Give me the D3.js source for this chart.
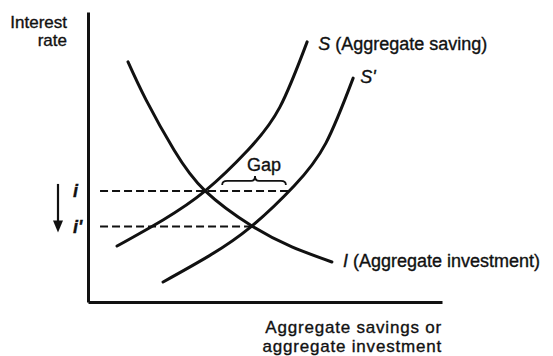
<!DOCTYPE html>
<html>
<head>
<meta charset="utf-8">
<script src="https://cdn.jsdelivr.net/npm/d3@7"></script>
<style>
  html, body { margin: 0; padding: 0; background: #fff; }
  svg { display: block; }
  text { font-family: "Liberation Sans", Arial, Helvetica, sans-serif; fill: #111; stroke: #111; stroke-width: 0.35px; }
</style>
</head>
<body>
<svg id="chart" width="553" height="356"></svg>
<script>
// Curve coordinates in abstract units (0-100 on both axes)
const investX = [11.3, 16.4, 24.3, 33.1, 46.3, 57.6, 68.9];
const investY = [82.8, 69.7, 52.4, 38.3, 26.2, 19.0, 13.8];
const savingX = [8.2, 21.2, 33.1, 45.2, 54.2, 61.9];
const savingY = [19.3, 28.3, 38.3, 52.4, 67.2, 89.7];
const shiftedX = [21.2, 34.2, 46.0, 58.2, 67.2, 74.9];
const shiftedY = [6.9, 15.9, 25.9, 40.0, 54.8, 77.2];

// Interest-rate levels and where their guide lines stop
const rateLabels = ["i", "i'"];
const rateValues = [38.3, 26.0];
const rateEnds = [56.5, 46.2];
const guideStart = 3.4;

// Horizontal extent of the saving gap at rate i
const gapFrom = 37.9;
const gapTo = 55.9;

const svg = d3.select("#chart");
const ink = "#111";

const x = d3.scaleLinear().domain([0, 100]).range([88, 442]);
const y = d3.scaleLinear().domain([0, 100]).range([302, 12]);

// Axes without ticks
const yAxis = svg.append("g").attr("transform", `translate(${x(0)},0)`)
  .call(d3.axisLeft(y).tickValues([]).tickSizeOuter(0));
const xAxis = svg.append("g").attr("transform", `translate(0,${y(0)})`)
  .call(d3.axisBottom(x).tickValues([]).tickSizeOuter(0));
[yAxis, xAxis].forEach(g => g.select(".domain").attr("stroke", ink).attr("stroke-width", 3));

// Dashed guide lines at each rate
svg.selectAll("line.guide").data(rateValues).join("line")
  .attr("class", "guide")
  .attr("x1", x(guideStart))
  .attr("x2", (d, k) => x(rateEnds[k]))
  .attr("y1", d => y(d)).attr("y2", d => y(d))
  .attr("stroke", ink).attr("stroke-width", 2)
  .attr("stroke-dasharray", "8,4");

// Curves
const line = d3.line().x(d => x(d[0])).y(d => y(d[1])).curve(d3.curveNatural);
const series = [
  d3.zip(investX, investY),
  d3.zip(savingX, savingY),
  d3.zip(shiftedX, shiftedY)
];
svg.selectAll("path.curve").data(series).join("path")
  .attr("class", "curve")
  .attr("d", line)
  .attr("fill", "none")
  .attr("stroke", ink)
  .attr("stroke-width", 3)
  .attr("stroke-linecap", "round");

// Curve labels
const sEnd = [savingX[savingX.length - 1], savingY[savingY.length - 1]];
const s2End = [shiftedX[shiftedX.length - 1], shiftedY[shiftedY.length - 1]];
const iEnd = [investX[investX.length - 1], investY[investY.length - 1]];

const sLab = svg.append("text").attr("x", x(sEnd[0]) + 11).attr("y", y(sEnd[1]) + 8)
  .attr("font-size", 18);
sLab.append("tspan").attr("font-style", "italic").text("S");
sLab.append("tspan").text(" (Aggregate saving)");

svg.append("text").attr("x", x(s2End[0]) + 7).attr("y", y(s2End[1]) + 5)
  .attr("font-size", 18).attr("font-style", "italic").text("S'");

const iLab = svg.append("text").attr("x", x(iEnd[0]) + 11).attr("y", y(iEnd[1]) + 5)
  .attr("font-size", 18);
iLab.append("tspan").attr("font-style", "italic").text("I");
iLab.append("tspan").text(" (Aggregate investment)");

// Rate labels on the vertical axis
svg.selectAll("text.rate").data(rateValues).join("text")
  .attr("class", "rate")
  .attr("x", 73)
  .attr("y", d => y(d) + 6)
  .attr("font-size", 18)
  .attr("font-style", "italic")
  .attr("font-weight", "bold")
  .text((d, k) => rateLabels[k]);

// Downward arrow showing the fall in the rate
const ax = 58;
const aTop = y(rateValues[0]) - 7;
const aBot = y(rateValues[1]) + 6;
svg.append("line").attr("x1", ax).attr("x2", ax).attr("y1", aTop).attr("y2", aBot - 10)
  .attr("stroke", ink).attr("stroke-width", 2.2);
svg.append("path")
  .attr("d", `M${ax - 5},${aBot - 12}L${ax + 5},${aBot - 12}L${ax},${aBot}Z`)
  .attr("fill", ink);

// Brace over the gap
const bx0 = x(gapFrom), bx1 = x(gapTo);
const by = y(rateValues[0]) - 6;
const bm = (bx0 + bx1) / 2 + 1;
const bracePath = `M${bx0},${by}` +
  `Q${bx0},${by - 4} ${bx0 + 5},${by - 4}` +
  `L${bm - 4},${by - 4}` +
  `Q${bm},${by - 4} ${bm},${by - 9}` +
  `Q${bm},${by - 4} ${bm + 4},${by - 4}` +
  `L${bx1 - 5},${by - 4}` +
  `Q${bx1},${by - 4} ${bx1},${by}`;
svg.append("path").attr("d", bracePath).attr("fill", "none")
  .attr("stroke", ink).attr("stroke-width", 1.8);
svg.append("text").attr("x", bm + 9).attr("y", by - 14)
  .attr("text-anchor", "middle").attr("font-size", 18).text("Gap");

// Axis titles
const yTitle = svg.append("text").attr("text-anchor", "end").attr("font-size", 17);
yTitle.append("tspan").attr("x", 67).attr("y", 28).text("Interest");
yTitle.append("tspan").attr("x", 67).attr("y", 46).text("rate");

const xTitle = svg.append("text").attr("text-anchor", "end")
  .attr("font-size", 17).attr("letter-spacing", 0.8);
xTitle.append("tspan").attr("x", 442).attr("y", 332.5).text("Aggregate savings or");
xTitle.append("tspan").attr("x", 442).attr("y", 352).text("aggregate investment");
</script>
</body>
</html>
